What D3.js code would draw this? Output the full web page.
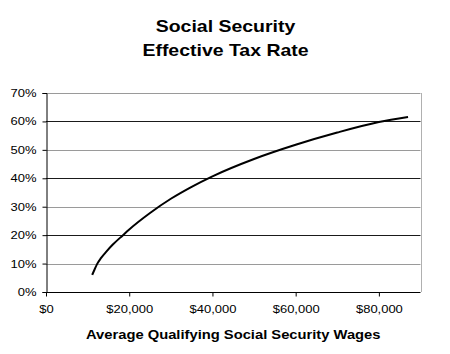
<!DOCTYPE html>
<html>
<head>
<meta charset="utf-8">
<script src="https://cdn.jsdelivr.net/npm/d3@7"></script>
<style>
  body { margin: 0; background: #fff; }
  text { font-family: "Liberation Sans", Arial, sans-serif; }
</style>
</head>
<body>
<div id="chart"></div>
<script>
// wages ($) and effective tax rate (%)
const wages = [11100, 11700, 12300, 13200, 14500, 16000, 18500, 20000, 25000, 30000, 35000, 40000, 50000, 60000, 70000, 80000, 87000];
const rates = [6.0, 8.0, 9.9, 11.9, 14.2, 16.6, 20.0, 22.0, 27.8, 32.8, 37.0, 40.7, 46.8, 51.8, 56.1, 59.8, 61.6];
const xTicks = [0, 20000, 40000, 60000, 80000];
const yTicks = [0, 10, 20, 30, 40, 50, 60, 70];

const width = 450, height = 354;
const margin = { top: 93, right: 29.5, bottom: 62, left: 46 };
const stretch = 1.18; // the original picture is a bit wider than tall

const svg = d3.select("#chart")
  .append("svg")
    .attr("width", width)
    .attr("height", height);

const x = d3.scaleLinear()
  .domain([0, 90000])
  .range([margin.left, width - margin.right]);

const y = d3.scaleLinear()
  .domain([0, 70])
  .range([height - margin.bottom, margin.top]);

function label(tx, ty, size, txt) {
  svg.append("text")
    .attr("transform", `translate(${tx},${ty}) scale(${stretch},1)`)
    .attr("text-anchor", "middle")
    .attr("font-size", size).attr("font-weight", "bold")
    .text(txt);
}

// title
label(225.5, 32, 16.5, "Social Security");
label(225.5, 56, 16.5, "Effective Tax Rate");

// gridlines (alternate dark / grey like the original)
svg.append("g")
  .selectAll("line")
  .data(yTicks.filter(d => d > 0))
  .enter()
  .append("line")
    .attr("x1", x(0)).attr("x2", x(90000))
    .attr("y1", d => Math.round(y(d)) + 0.5)
    .attr("y2", d => Math.round(y(d)) + 0.5)
    .attr("stroke", d => (d / 10) % 2 == 0 ? "#1a1a1a" : "#9a9a9a")
    .attr("stroke-width", 1);

// right border
svg.append("line")
  .attr("x1", Math.round(x(90000)) + 0.5).attr("x2", Math.round(x(90000)) + 0.5)
  .attr("y1", y(70)).attr("y2", y(0))
  .attr("stroke", "#b0b0b0");

// y axis
const yAxis = svg.append("g")
  .attr("transform", `translate(${x(0) + 0.5},0)`)
  .call(d3.axisLeft(y).tickValues(yTicks).tickFormat(d => d + "%").tickSize(4).tickPadding(4.5));

// x axis
const xAxis = svg.append("g")
  .attr("transform", `translate(0,${Math.round(y(0)) + 0.5})`)
  .call(d3.axisBottom(x).tickValues(xTicks).tickFormat(d => "$" + d3.format(",")(d)).tickSize(4).tickPadding(9));

[yAxis, xAxis].forEach(a => {
  a.select(".domain").attr("stroke", "#000");
  a.selectAll(".tick line").attr("stroke", "#000");
  a.selectAll("text")
    .attr("font-family", "'Liberation Sans', Arial, sans-serif")
    .attr("font-size", 11)
    .attr("fill", "#000")
    .attr("transform", `scale(${stretch},1)`);
});
xAxis.select(".domain").attr("d", `M${x(0)},0H${x(90000)}`);

// x axis title
label((x(0) + x(90000)) / 2, 339, 12.5, "Average Qualifying Social Security Wages");

// curve
const line = d3.line()
  .x((d, i) => x(wages[i]))
  .y(d => y(d))
  .curve(d3.curveMonotoneX);

svg.append("path")
  .datum(rates)
  .attr("fill", "none")
  .attr("stroke", "#000")
  .attr("stroke-width", 2)
  .attr("d", line);
</script>
</body>
</html>
